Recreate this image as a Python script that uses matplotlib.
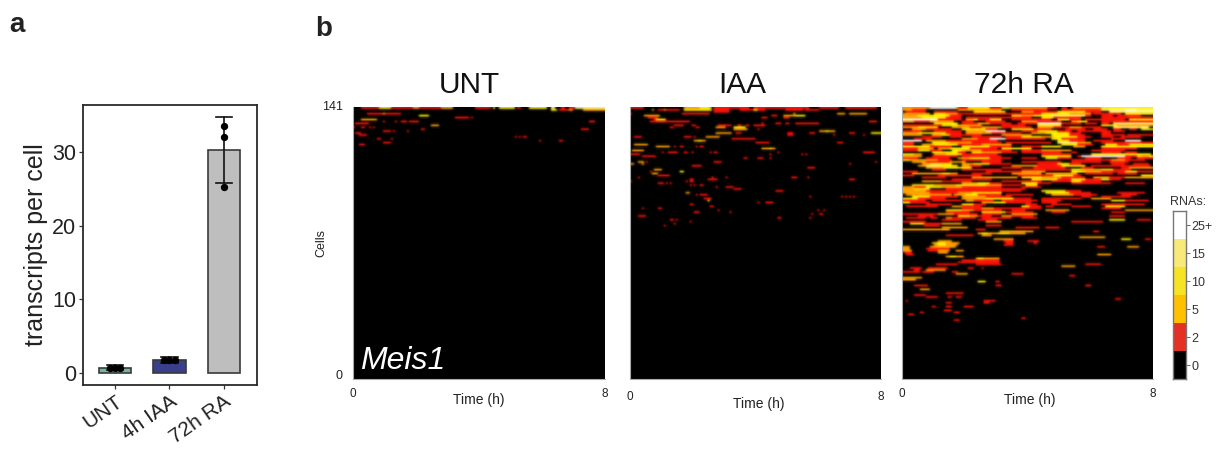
import numpy as np
import matplotlib
matplotlib.use("Agg")
import matplotlib.pyplot as plt
from matplotlib.colors import ListedColormap, BoundaryNorm

plt.rcParams['font.family'] = ['Liberation Sans', 'DejaVu Sans']

# ---------- panel a ----------
conditions = ["UNT", "4h IAA", "72h RA"]
bar_means = [0.7, 1.75, 30.3]
err_low = [0.35, 1.35, 25.8]
err_high = [1.05, 2.15, 34.8]
bar_colors = ["#6DB8A0", "#3A3F8C", "#BEBEBE"]
dots_y = [[0.65, 0.65, 0.65], [1.7, 1.7, 1.7], [33.5, 32.1, 25.2]]
dots_dx = [[-0.09, 0, 0.09], [-0.1, 0, 0.1], [0, 0, 0]]

# ---------- panel b: (row from top, first column, end column, colour level) ----------
level_labels = ["0", "2", "5", "10", "15", "25+"]
key_colors = ["#000000", "#E53024", "#FFC000", "#F7E326", "#F7EA78", "#FFFFFF"]
heat_colors = ["#000000", "#F81408", "#FFA000", "#FFF000", "#FFF680", "#FFFFFF"]
panel_titles = ["UNT", "IAA", "72h RA"]

UNT_RUNS = [
 (0,4,50,1),(0,13,19,3),(0,30,33,2),(0,44,50,2),(0,61,69,1),(0,70,71,3),(0,73,81,3),(0,82,84,1),(0,88,97,3),
 (0,99,101,4),(0,104,106,1),(0,108,111,1),(0,111,126,4),(1,99,102,3),(1,103,108,1),(1,108,110,2),(1,115,126,2),
 (3,7,24,1),(3,15,16,2),(4,33,38,3),(5,51,58,1),(5,59,60,1),(6,4,12,2),(7,15,16,1),(7,21,22,1),(7,24,27,1),
 (7,28,33,1),(7,118,121,1),(8,1,8,1),(9,39,43,2),(10,0,1,1),(10,4,6,1),(10,8,9,1),(10,10,11,1),(11,34,36,1),
 (11,114,118,1),(12,15,19,1),(12,20,21,1),(12,27,28,1),(13,1,4,1),(14,3,7,1),(15,81,82,1),(15,83,84,1),
 (15,85,87,1),(16,12,14,1),(16,19,20,1),(17,93,94,1),(17,103,105,1),(18,15,19,1),(19,3,6,1),
]

IAA_RUNS = [
 (0,0,7,1),(0,27,41,2),(0,35,40,3),(0,42,60,1),(0,62,90,1),(0,95,105,1),(0,108,124,1),
 (1,11,12,2),(1,14,25,1),(1,17,18,2),(1,27,41,3),(1,42,50,1),(1,55,68,1),(1,62,64,3),(1,78,87,1),(1,88,95,1),
 (2,42,50,1),(3,0,1,1),(3,26,40,1),(3,82,83,2),(3,104,108,2),(3,110,119,2),
 (4,7,15,2),(4,71,74,1),(4,77,88,2),(4,83,88,3),(5,9,14,1),(5,66,69,1),(5,77,80,1),
 (6,13,18,3),(6,12,13,1),(7,10,30,1),(7,120,124,1),(8,66,67,1),(8,73,76,1),(8,78,80,1),(8,83,95,1),
 (9,22,27,1),(9,31,33,1),(9,44,51,1),(9,54,56,1),(9,58,60,1),(9,62,68,1),
 (10,20,22,1),(10,33,35,1),(10,43,48,2),(10,52,58,3),(11,52,59,2),(11,64,65,1),
 (12,95,103,2),(12,98,100,3),(13,43,51,2),(13,53,56,1),(13,79,82,1),(13,90,93,1),(13,110,113,1),(13,121,126,3),
 (14,79,82,1),(14,102,103,1),(14,117,118,1),(15,2,6,1),(15,27,31,1),(15,32,33,1),(15,38,45,2),
 (16,51,63,1),(17,32,38,2),(17,34,36,3),(18,63,70,1),(18,104,107,1),(19,2,9,2),
 (20,13,20,2),(20,22,23,1),(20,25,27,1),(20,33,34,1),(20,35,37,1),(21,66,73,2),(21,70,71,3),(22,1,7,2),
 (23,16,17,1),(23,19,24,1),(23,27,29,1),(23,31,32,1),(23,40,41,1),(23,42,44,1),(23,74,75,1),(23,117,123,1),
 (24,0,5,1),(24,70,71,1),(24,86,87,1),(24,88,89,1),(25,6,13,1),
 (26,57,59,1),(26,64,67,1),(26,70,71,1),(28,4,7,2),(28,8,9,1),(28,42,46,1),(28,123,124,1),
 (29,0,2,2),(29,6,7,2),(29,110,111,1),(30,31,36,1),(31,89,93,1),(32,12,16,2),(33,25,27,3),(34,11,14,2),
 (33,10,11,1),(35,14,20,1),(36,4,5,1),(36,41,42,1),(36,48,49,1),(36,81,84,1),(36,89,90,1),
 (37,30,32,1),(37,110,113,1),(37,39,44,1),(38,0,1,1),(38,28,29,1),(38,30,32,1),
 (39,14,17,1),(39,18,19,1),(39,20,21,1),(40,30,31,1),(40,32,33,1),(40,35,37,1),
 (41,48,52,1),(41,43,44,1),(42,52,56,1),(43,73,77,1),(44,28,30,2),(45,35,39,1),(45,33,34,1),
 (46,90,91,1),(46,106,107,1),(46,108,109,1),(46,110,111,1),(46,112,113,1),(47,37,41,1),(48,39,40,3),
 (49,64,65,1),(49,68,72,1),(50,30,32,1),(51,40,42,1),(52,14,16,1),(52,6,7,1),(53,94,95,1),(53,97,98,1),(53,44,45,1),
 (54,32,35,1),(54,50,51,1),(55,95,97,1),(55,91,92,1),(56,4,8,1),(57,74,76,1),(57,90,91,1),
 (58,20,22,1),(58,23,24,1),(59,30,31,1),(60,22,23,1),(61,17,18,1),
]

RA_RUNS = [
 (0,0,14,2),(0,14,27,5),(0,27,54,3),(0,54,100,2),(0,100,126,3),
 (1,0,12,1),(1,28,50,2),(1,55,100,1),(1,100,126,4),(1,112,118,5),
 (2,2,12,1),(2,16,28,1),(2,36,52,3),(2,60,72,1),(2,72,100,3),(2,104,126,4),
 (3,0,14,2),(3,16,28,3),(3,30,55,1),(3,55,70,1),(3,70,95,3),(3,96,110,1),(3,112,126,3),
 (4,0,30,3),(4,55,75,3),(4,75,95,4),(4,100,106,1),(4,108,120,1),
 (5,0,30,3),(5,32,50,1),(5,50,65,1),(5,70,90,3),(5,100,126,1),
 (6,0,18,5),(6,18,30,1),(6,32,50,3),(6,55,75,1),(6,78,90,3),(6,92,100,1),(6,114,126,3),
 (7,0,26,2),(7,30,60,1),(7,60,80,2),(7,85,93,3),(7,110,126,1),
 (8,16,28,3),(8,30,55,2),(8,58,68,1),(8,68,80,5),(8,80,90,1),(8,106,126,4),
 (9,0,20,1),(9,20,40,3),(9,42,62,1),(9,68,82,3),(9,85,90,1),(9,100,126,3),
 (10,0,18,3),(10,25,50,2),(10,50,65,1),(10,68,90,2),(10,106,124,4),
 (11,5,25,2),(11,30,48,3),(11,55,75,3),(11,90,100,1),(11,106,118,1),(11,120,126,3),
 (12,0,14,1),(12,42,52,5),(12,60,85,3),(12,95,105,1),
 (13,0,30,3),(13,32,45,2),(13,45,60,1),(13,65,90,3),
 (14,0,10,2),(14,15,40,3),(14,50,65,2),(14,75,95,3),(14,100,112,1),(14,113,126,1),
 (15,10,30,1),(15,35,50,1),(15,52,70,3),(15,70,95,3),
 (16,0,15,1),(16,30,44,2),(16,44,52,5),(16,52,72,1),(16,75,92,3),(16,105,112,1),
 (17,0,10,5),(17,12,30,2),(17,30,48,1),(17,78,92,3),(17,112,120,5),
 (18,15,35,3),(18,35,50,1),(18,52,75,1),(18,78,95,4),(18,100,126,1),
 (19,0,6,1),(19,10,40,3),(19,40,55,2),(19,80,96,3),(19,102,126,3),
 (20,0,25,3),(20,30,55,3),(20,60,80,3),(20,100,126,3),
 (21,0,16,2),(21,18,48,3),(21,50,65,3),
 (22,0,8,1),(22,8,20,3),(22,25,55,3),(22,60,85,2),(22,95,112,1),
 (23,15,32,3),(23,35,58,3),(23,60,80,1),(23,85,88,1),(23,100,110,1),
 (24,0,10,3),(24,16,48,3),(24,70,85,1),(24,95,125,3),
 (25,0,10,2),(25,15,28,1),(25,30,50,1),(25,70,85,3),(25,90,112,5),(25,118,126,3),
 (26,0,8,1),(26,12,24,1),(26,28,55,3),(26,60,68,1),(26,72,85,3),(26,108,115,1),
 (27,0,10,3),(27,10,25,2),(27,30,50,1),(27,85,105,1),(27,105,122,2),
 (28,5,32,2),(28,40,50,1),(28,60,80,1),(28,85,100,1),
 (29,10,25,3),(29,30,55,3),(29,68,78,1),(29,78,90,3),(29,105,112,1),
 (30,12,28,4),(30,30,40,1),(30,55,80,2),(30,80,92,3),(30,95,125,1),
 (31,12,35,3),(31,50,60,1),(31,66,82,1),(31,90,126,1),
 (32,15,22,1),(32,30,50,1),(32,60,85,1),(32,85,100,3),(32,100,115,1),
 (33,42,60,1),(33,60,72,2),(33,85,126,3),
 (34,5,28,3),(34,35,45,1),(34,55,70,2),(34,72,88,2),(34,92,106,1),(34,108,118,1),
 (35,18,40,1),(35,58,76,1),(35,76,90,3),(35,120,126,3),
 (36,10,22,1),(36,35,58,2),(36,60,92,3),(36,96,126,2),
 (37,25,45,1),(37,65,110,3),
 (38,10,35,2),(38,50,70,1),(38,75,85,1),(38,85,100,3),
 (39,30,50,3),(39,60,75,3),(39,85,105,1),(39,112,122,1),
 (40,5,30,3),(40,32,50,3),(40,50,60,1),(40,62,68,3),
 (41,0,12,1),(41,12,50,3),(41,60,70,1),
 (42,0,14,3),(42,22,62,1),
 (43,0,25,2),(43,25,60,1),(43,70,90,3),
 (44,0,14,2),(44,14,35,1),(44,35,50,3),(44,72,95,3),(44,108,122,1),
 (45,2,25,2),(45,26,50,3),(45,52,66,1),(45,75,98,2),(45,110,118,1),
 (46,5,28,3),(46,30,55,2),(46,90,95,1),(46,100,115,1),
 (47,0,22,3),(47,30,45,2),(47,50,65,1),(47,70,90,1),(47,95,105,2),
 (48,0,12,1),(48,15,30,1),(48,32,46,2),(48,50,68,1),(48,70,80,1),(48,105,124,3),
 (49,0,14,3),(49,40,65,3),(49,70,78,1),
 (50,12,25,1),(50,30,42,3),(50,62,68,1),(50,75,85,1),(50,100,122,1),
 (51,2,18,1),(51,25,40,2),(51,60,70,3),(51,72,76,1),(51,85,95,1),(51,102,112,3),
 (52,30,70,1),(52,100,110,1),
 (53,22,30,3),(53,30,50,1),(53,55,62,1),(53,72,84,2),(53,112,126,2),
 (54,22,34,1),(54,40,66,3),(54,75,82,1),(54,105,112,1),
 (55,0,5,1),(55,15,38,2),(55,40,50,1),(55,55,68,2),
 (56,8,16,1),(56,28,45,3),(56,50,66,2),(56,104,112,1),
 (57,2,12,1),(57,14,18,1),(57,22,37,2),(57,40,55,1),(57,60,68,1),
 (58,104,112,3),(58,118,125,1),(58,38,48,1),(59,85,101,1),(59,42,50,2),
 (60,4,11,3),(60,11,20,1),(60,20,30,2),(61,11,19,1),(61,42,50,1),
 (62,20,33,2),(62,57,69,1),(62,72,79,1),(63,0,24,2),(63,37,42,1),
 (64,49,66,2),(64,96,99,1),(65,38,62,2),(65,40,43,3),(65,48,54,3),(66,22,36,1),(66,40,45,2),
 (67,89,102,2),(68,46,56,2),(68,110,115,3),(68,122,125,1),
 (69,18,25,2),(69,51,56,1),(69,63,69,1),(70,15,29,2),(70,17,22,3),(70,52,56,1),(70,66,68,1),
 (71,16,28,2),(71,18,22,3),(71,51,56,1),(72,0,4,2),(72,14,27,2),(72,98,102,1),(72,113,119,2),
 (73,0,4,2),(73,12,24,1),(74,0,5,2),(74,13,18,1),(74,18,24,2),(74,27,31,2),(75,1,5,1),(75,18,23,2),(76,2,6,1),(76,98,105,2),
 (77,22,31,2),(77,24,27,3),(78,37,49,2),(78,38,41,3),(79,30,49,1),(80,28,49,1),(81,17,28,1),(81,37,50,1),(81,92,100,1),
 (82,80,87,2),(83,4,10,1),(83,13,23,1),(83,33,36,1),(83,40,41,1),(84,6,9,1),(84,12,22,2),(85,0,3,1),(85,3,9,1),(85,10,16,1),(85,25,28,1),
 (86,27,33,2),(86,55,61,1),(87,84,87,1),(88,0,10,2),(89,0,7,2),(90,38,42,3),(90,47,49,1),
 (92,6,13,1),(92,47,50,1),(92,92,95,1),(94,9,14,2),(96,22,31,1),(97,6,12,1),
 (98,12,18,1),(98,23,25,1),(98,27,30,1),(99,107,110,1),(100,2,3,1),(100,41,47,1),
 (101,22,25,1),(101,41,44,1),(103,15,17,1),(103,22,25,1),(103,31,36,1),(105,21,25,1),(106,26,29,1),
 (106,9,11,1),(107,3,6,1),(109,60,62,1),(110,26,29,1),
]

RA_DETAIL = [
 (0,28,33,1),(0,44,50,1),(0,73,86,1),(0,78,80,0),(0,83,85,0),
 (1,0,5,2),(1,73,80,0),(2,60,66,2),(2,72,78,1),(2,92,100,1),
 (3,28,34,1),(3,22,28,2),(3,84,95,2),(4,24,30,1),(4,0,8,2),(4,60,66,2),(4,92,95,1),
 (5,0,10,2),(5,22,30,1),(5,76,90,1),(5,95,100,0),(6,38,44,1),(6,32,36,2),(6,84,90,1),(6,100,112,1),
 (7,6,14,1),(7,36,42,0),(7,52,60,0),(7,68,80,1),(7,85,88,2),(7,100,110,1),(7,95,100,0),
 (8,0,10,0),(8,30,38,1),(8,44,55,1),(8,92,98,1),(8,100,104,1),
 (9,28,40,2),(9,42,50,0),(9,80,90,0),(9,108,126,2),(10,0,8,2),(10,34,40,1),(10,76,84,1),(10,90,100,1),(10,100,106,0),
 (11,12,25,1),(11,42,48,1),(11,66,75,1),(11,82,90,1),(11,92,96,0),(11,98,103,1),(11,110,114,0),
 (12,10,14,0),(12,16,30,1),(12,32,42,2),(12,60,68,1),(12,78,85,1),(12,88,95,1),(12,106,112,1),
 (13,22,30,1),(13,0,8,2),(13,65,72,2),(13,84,90,1),(13,100,105,1),(14,24,40,1),(14,15,20,2),(14,84,95,1),(14,92,95,0),
 (15,20,24,0),(15,52,60,1),(15,70,76,2),(15,88,95,1),(15,100,106,1),(15,110,120,1),
 (16,80,92,1),(16,38,44,1),(16,0,6,0),(17,22,30,1),(17,84,92,1),(17,96,106,1),
 (18,24,35,2),(18,88,95,2),(18,0,6,1),(19,28,40,1),(19,10,16,2),(19,88,96,1),(19,108,114,1),
 (20,14,25,1),(20,44,55,1),(20,60,70,1),(20,86,92,2),(21,0,8,1),(21,34,48,1),(21,18,24,2),(21,100,118,1),
 (22,14,20,1),(22,40,55,1),(22,30,40,2),(22,60,70,1),(22,88,95,0),(23,28,32,1),(23,50,58,1),(23,40,50,2),(23,112,118,1),
 (24,30,48,1),(24,16,22,2),(24,6,10,2),(24,70,74,1),(25,88,90,1),(25,112,118,1),(25,120,124,2),
 (26,44,55,1),(26,28,34,2),(26,78,85,1),(26,92,100,1),(26,118,126,1),
 (27,4,10,2),(27,18,25,1),(27,112,122,1),(28,12,24,1),(28,104,114,1),
 (29,44,55,1),(29,30,36,2),(29,10,14,2),(29,84,90,1),(29,116,124,1),
 (30,30,34,2),(30,8,12,2),(30,20,28,3),(30,68,80,1),(31,12,21,2),(31,96,110,0),(31,114,126,2),
 (32,90,100,2),(32,100,106,3),(33,0,8,1),(33,100,112,1),(33,92,100,2),(33,118,126,1),
 (34,5,12,2),(34,12,28,2),(34,20,24,3),(34,40,45,1),(35,0,6,1),(35,86,90,1),
 (36,70,80,2),(36,80,92,1),(36,104,112,1),(37,78,85,1),(37,92,110,1),(37,100,104,3),
 (38,20,35,1),(38,90,100,1),(39,30,38,2),(39,44,50,1),(39,68,75,1),
 (40,16,30,2),(40,27,42,3),(40,42,50,2),(41,0,6,2),(41,30,50,1),(41,20,30,2),(42,6,12,3),(42,0,6,2),
 (43,12,25,1),(43,82,90,1),(44,28,35,2),(44,84,95,1),(45,38,50,1),(45,26,32,2),(45,86,98,1),
 (46,14,28,1),(46,42,55,1),(47,42,56,3),(47,0,6,3),(47,8,22,1),(48,36,46,1),(48,112,124,1),
 (49,4,14,1),(49,52,65,1),(49,40,46,2),(50,36,42,1),(51,30,40,1),(51,64,70,1),(52,40,46,3),(52,40,46,2),
 (53,23,31,3),(53,30,36,2),(54,52,66,1),(55,3,18,1),(55,26,38,1),(56,38,45,1),(56,34,38,2),(56,55,66,1),
 (57,25,37,1),(58,20,30,1),(59,0,12,1),
]

N_ROWS = 141
N_COLS = 126

def to_matrix(*run_lists):
    m = np.zeros((N_ROWS, N_COLS))
    for runs in run_lists:
        for row, start, end, level in runs:
            m[row, start:end] = level
    return m

def soften(rgb, side=0.12):
    """Slight blur of the coloured cells, as the reference image is a soft raster."""
    out = rgb.copy()
    for axis in (0, 1):
        pad = [(1, 1) if i == axis else (0, 0) for i in range(3)]
        p = np.pad(out, pad, mode="edge")
        lo = np.take(p, range(0, p.shape[axis] - 2), axis=axis)
        mid = np.take(p, range(1, p.shape[axis] - 1), axis=axis)
        hi = np.take(p, range(2, p.shape[axis]), axis=axis)
        out = side * lo + (1 - 2 * side) * mid + side * hi
    return out

fig = plt.figure(figsize=(12.19, 4.49), dpi=100)
W, H = 1219.0, 449.0

def axes_px(left, top, right, bottom):
    return fig.add_axes([left / W, 1 - bottom / H, (right - left) / W, (bottom - top) / H])

# ---------- bar panel ----------
ax = axes_px(83, 105, 256.5, 385)
x = np.arange(len(conditions))
ax.bar(x, bar_means, width=0.6, color=bar_colors, edgecolor="#3A3A3A", linewidth=1.2, zorder=2)
for i in x:
    ax.plot([i, i], [err_low[i], err_high[i]], color="#111111", lw=1.2, zorder=3)
    for v in (err_low[i], err_high[i]):
        ax.plot([i - 0.15, i + 0.15], [v, v], color="#111111", lw=1.2, zorder=3)
    ax.scatter(i + np.array(dots_dx[i]), dots_y[i], s=28, color="#000000", zorder=4, linewidths=0)
ax.set_xlim(-0.587, 2.6)
ax.set_ylim(-1.68, 36.4)
ax.set_yticks([0, 10, 20, 30])
ax.set_xticks(x)
ax.set_xticklabels(conditions, rotation=35, ha="right", rotation_mode="anchor", fontsize=15, color="#222222")
ax.tick_params(axis="y", labelsize=15.5, labelcolor="#222222", length=3, width=0.9, color="#333333", pad=2)
ax.tick_params(axis="x", length=3, width=0.9, color="#333333", pad=2)
ax.set_ylabel("transcripts per cell", fontsize=18, color="#222222", labelpad=3)
for s in ax.spines.values():
    s.set_linewidth(1.3)
    s.set_color("#2A2A2A")

# ---------- heatmaps ----------
heat_cmap = ListedColormap(heat_colors)
key_cmap = ListedColormap(key_colors)
norm = BoundaryNorm(np.arange(-0.5, 6.5), heat_cmap.N)
matrices = [to_matrix(UNT_RUNS), to_matrix(IAA_RUNS), to_matrix(RA_RUNS, RA_DETAIL)]
panels = [(353, 605, 469, 479, 400, 394), (630, 881, 742, 759, 404, 397), (902, 1153, 1024, 1030, 400, 394)]
for k, (l, r, title_x, label_x, label_y, tick_y) in enumerate(panels):
    a = axes_px(l, 107, r, 379)
    rgb = soften(heat_cmap(norm(matrices[k]))[..., :3])
    a.imshow(rgb, aspect="auto", extent=(0, 8, 0, 141), origin="upper", interpolation="bilinear")
    a.set_xticks([])
    a.set_yticks([])
    for name, s in a.spines.items():
        s.set_visible(name in ("left", "bottom"))
        s.set_color("#AAAAAA")
        s.set_linewidth(0.8)
    fig.text(title_x / W, 1 - 85 / H, panel_titles[k], fontsize=21.5, ha="center", va="center", color="#111111")
    fig.text(label_x / W, 1 - label_y / H, "Time (h)", fontsize=10, ha="center", va="center", color="#222222")
    fig.text(l / W, 1 - tick_y / H, "0", fontsize=8.5, ha="center", va="center", color="#222222")
    fig.text(r / W, 1 - tick_y / H, "8", fontsize=8.5, ha="center", va="center", color="#222222")

fig.text(343 / W, 1 - 107 / H, "141", fontsize=9, ha="right", va="center", color="#222222")
fig.text(343 / W, 1 - 376 / H, "0", fontsize=9, ha="right", va="center", color="#222222")
fig.text(321 / W, 1 - 243 / H, "Cells", fontsize=9, ha="center", va="center", rotation=90, color="#222222")
fig.text(360 / W, 1 - 361 / H, "Meis1", fontsize=23, style="italic", ha="left", va="center", color="#FFFFFF")

# ---------- colour key ----------
c = axes_px(1173, 211, 1186, 379)
c.imshow(np.arange(6)[::-1].reshape(-1, 1), cmap=key_cmap, norm=norm, aspect="auto",
         extent=(0, 1, -0.5, 5.5), interpolation="nearest")
c.set_xticks([])
c.yaxis.tick_right()
c.set_yticks(range(6))
c.set_yticklabels(level_labels, fontsize=9, color="#333333")
c.tick_params(axis="y", length=3, width=0.7, color="#666666", pad=1)
for s in c.spines.values():
    s.set_color("#777777")
    s.set_linewidth(1.0)
fig.text(1170 / W, 1 - 202 / H, "RNAs:", fontsize=9, ha="left", va="center", color="#333333")

# ---------- panel letters ----------
fig.text(9 / W, 1 - 25 / H, "a", fontsize=20, fontweight="bold", ha="left", va="center", color="#222222")
fig.text(315 / W, 1 - 29 / H, "b", fontsize=20, fontweight="bold", ha="left", va="center", color="#222222")

fig.savefig("out.png", dpi=100)
